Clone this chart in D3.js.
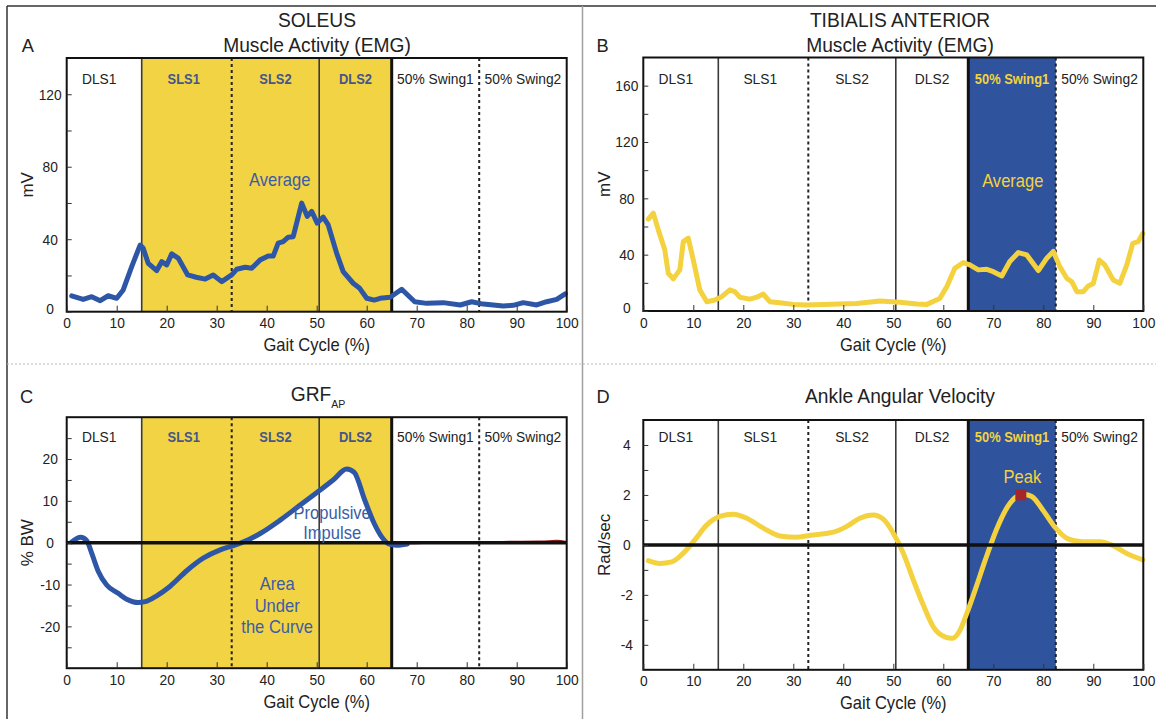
<!DOCTYPE html>
<html><head><meta charset="utf-8">
<script src="https://cdn.jsdelivr.net/npm/d3@7"></script>
<style>
html,body{margin:0;padding:0;background:#fff;}
svg{display:block;font-family:"Liberation Sans",Arial,sans-serif;}
</style></head><body>
<svg id="chart" width="1156" height="719"></svg>
<script>
// ================= DATA =================
const phaseBounds = [0, 15, 33, 50.5, 65, 82.5, 100];
const phaseNames  = ["DLS1", "SLS1", "SLS2", "DLS2", "50% Swing1", "50% Swing2"];
const xTicks = [0, 10, 20, 30, 40, 50, 60, 70, 80, 90, 100];

// Panel A – Soleus EMG (mV)
const soleusGait = [1, 3.3, 5, 6.7, 8.3, 10, 11.3, 13, 14.7, 15.3, 16.3, 18, 19, 20, 21, 22.3, 24.2, 25.9, 27.7, 29.3, 31, 33, 34, 35.7, 37, 38.7, 40.3, 41.3, 42.3, 43.3, 44.3, 45.3, 47, 48.1, 49, 50.1, 51.3, 52.3, 54, 55.3, 57.3, 58.6, 60, 61.5, 62.7, 64.7, 67, 69.6, 72, 75.3, 78.7, 81, 83.3, 87.3, 89.3, 91.3, 94, 96, 98, 99.7];
const soleusEmg  = [8.7, 6.8, 8.3, 6.1, 8.8, 7.4, 12, 24.9, 36.8, 35, 26.7, 22.7, 27.6, 25.8, 31.9, 29.6, 20.3, 19, 18, 20.3, 16.6, 20.3, 23.4, 24.5, 24, 28.6, 30.7, 30.7, 37.8, 38.7, 41.1, 41.4, 59.9, 52.6, 55.4, 48.9, 52.2, 47.9, 32.2, 22.1, 15.7, 12.9, 7.4, 6.4, 7.4, 8, 12.4, 5.5, 4.6, 5, 3.7, 5.5, 4.2, 3.1, 3.5, 5, 3.7, 5.5, 6.8, 9.8];
const soleusTicks = [0, 20, 40, 60, 80, 100, 120];
const soleusLabels = [0, 40, 80, 120];

// Panel B – Tibialis anterior EMG (mV)
const tibGait = [1, 2, 3, 4.3, 5, 6, 7.3, 8, 9, 10, 11.3, 12.7, 14.3, 15.7, 17.3, 18.3, 19.3, 21.3, 22.7, 24, 25.3, 27.3, 30, 32.7, 36, 39.3, 42.7, 47.3, 51.3, 54.7, 56.7, 59.3, 60.7, 62.3, 64, 65.3, 67, 68.7, 70, 71.7, 73.3, 75, 76.7, 79, 80.7, 82, 83.3, 84.7, 85.7, 86.7, 88, 89, 90, 91.2, 92.3, 94, 95.3, 96.7, 97.9, 99, 99.9];
const tibEmg  = [65.2, 69.5, 57.6, 43.4, 26.8, 22.8, 29.2, 49.3, 51.7, 36.2, 15, 6.6, 7.8, 10.2, 15, 13.8, 9.8, 8.4, 9.8, 12, 6.6, 5.9, 4.7, 4.3, 4.7, 5, 5.4, 7.1, 6.2, 5, 4.7, 8.9, 17.3, 30.3, 34.4, 32.7, 29.2, 29.6, 27.9, 24.9, 35.1, 41.5, 39.8, 28.7, 37.5, 42.3, 31.5, 23.2, 20.8, 13.7, 13.7, 17.8, 19.6, 36.2, 32.7, 22, 19.6, 32.7, 48, 49.3, 55];
const tibTicks = [0, 20, 40, 60, 80, 100, 120, 140, 160];
const tibLabels = [0, 40, 80, 120, 160];

// Panel C – GRF anterior-posterior (% BW)
const grfGait = [1, 2.8, 4, 5, 6.3, 8, 10.3, 12, 14.3, 15.7, 18, 20.7, 24, 27.3, 30.7, 33.3, 35, 38.7, 42.7, 46.7, 50.7, 53.3, 56, 57.5, 59.6, 61.5, 63, 64.4, 65.9, 68.1];
const grfAP   = [0.2, 1.3, 0.5, -2.5, -6.8, -10.1, -12.1, -13.5, -14.3, -14.1, -12.7, -10.4, -6.7, -3.7, -1.7, -0.7, 0, 2.2, 5.4, 9, 12.6, 15, 17.6, 16.8, 10.2, 4.6, 1.4, -0.3, -0.6, -0.3];
const swingGrfGait = [65, 70, 75, 80, 85, 90, 95, 98, 100];
const swingGrfAP   = [-0.3, -0.2, 0, 0.1, 0.2, 0.3, 0.35, 0.5, 0.2];
const grfTicks = [-25, -20, -15, -10, -5, 0, 5, 10, 15, 20, 25];
const grfLabels = [-20, -10, 0, 10, 20];

// Panel D – Ankle angular velocity (rad/sec)
const angGait = [1, 3.3, 5.7, 8, 10.3, 12.7, 15.3, 18, 20.7, 24, 27.3, 30.7, 34, 38, 40.7, 43.3, 46, 48, 50, 52, 54, 56, 58, 60.3, 61.8, 63.2, 64.7, 66.6, 68.4, 70.6, 72.9, 74.7, 76.2, 77.7, 79.9, 82.5, 84.7, 87.7, 91.4, 93.6, 96.6, 99.9];
const angVel  = [-0.63, -0.74, -0.68, -0.33, 0.2, 0.8, 1.14, 1.23, 1.07, 0.67, 0.36, 0.31, 0.4, 0.51, 0.74, 1.07, 1.2, 1.03, 0.47, -0.33, -1.4, -2.41, -3.28, -3.68, -3.74, -3.47, -2.74, -1.67, -0.6, 0.6, 1.54, 1.94, 2.02, 1.94, 1.4, 0.67, 0.27, 0.13, 0.13, 0, -0.33, -0.6];
const angTicks = [-4, -3, -2, -1, 0, 1, 2, 3, 4];
const angLabels = [-4, -2, 0, 2, 4];
const peakPoint = [75.5, 2.0];

// ================= STYLE / LAYOUT =================
const YELLOW = "#f2d344", BLUE_BAND = "#2f539c", BLUE_LINE = "#2e56a6", YELLOW_LINE = "#f4d23f";
const BLUE_TXT = "#3c5ca6", PHASE_BLUE_TXT = "#45568b", DARK = "#222";
const svg = d3.select("#chart");
const FONT = "'Liberation Sans', Arial, sans-serif";

function txt(g, x, y, s, o) {
  o = o || {};
  const t = g.append("text")
    .attr("transform", `translate(${x},${y}) scale(${o.sx == null ? 0.92 : o.sx},1)`)
    .attr("text-anchor", o.anchor || "middle")
    .attr("fill", o.fill || DARK)
    .style("font-size", (o.size || 15) + "px")
    .text(s);
  if (o.weight) t.style("font-weight", o.weight);
  return t;
}

// outer frame
svg.append("line").attr("x1", 7).attr("x2", 1156).attr("y1", 6).attr("y2", 6).attr("stroke", "#333").attr("stroke-width", 1.5);
svg.append("line").attr("x1", 7).attr("x2", 7).attr("y1", 6).attr("y2", 719).attr("stroke", "#333").attr("stroke-width", 1.5);
svg.append("line").attr("x1", 7).attr("x2", 1156).attr("y1", 364).attr("y2", 364).attr("stroke", "#bbb").attr("stroke-width", 1).attr("stroke-dasharray", "2,2");
svg.append("line").attr("x1", 582.5).attr("x2", 582.5).attr("y1", 6).attr("y2", 719).attr("stroke", "#a0a0a0").attr("stroke-width", 1.5);

const panels = [
  { letter: "A", left: 66.7, right: 566.7, top: 58, bottom: 311.7, yDomain: [0, 140],
    ticks: soleusTicks, labels: soleusLabels, ylabel: "mV", zeroShift: -3.5,
    titleCx: 317, title: ["SOLEUS", "Muscle Activity (EMG)"], titleY: [27.3, 51.7], letterPos: [21.7, 52.3],
    phaseY: 84, band: [1, 2, 3], bandColor: YELLOW, bandText: PHASE_BLUE_TXT,
    gait: soleusGait, vals: soleusEmg, color: BLUE_LINE, curve: d3.curveLinear },
  { letter: "B", left: 643.3, right: 1143.3, top: 57.5, bottom: 311, yDomain: [0, 180],
    ticks: tibTicks, labels: tibLabels, ylabel: "mV", zeroShift: -3.5,
    titleCx: 900, title: ["TIBIALIS ANTERIOR", "Muscle Activity (EMG)"], titleY: [27.3, 51.7], letterPos: [596.5, 52],
    phaseY: 84, band: [4], bandColor: BLUE_BAND, bandText: YELLOW_LINE,
    gait: tibGait, vals: tibEmg, color: YELLOW_LINE, curve: d3.curveLinear },
  { letter: "C", left: 66.7, right: 566.7, top: 417.2, bottom: 668.2, yDomain: [-30, 30],
    ticks: grfTicks, labels: grfLabels, ylabel: "% BW", zeroShift: 0,
    titleCx: 318, title: null, titleY: [400.7], letterPos: [20, 403],
    phaseY: 441.5, band: [1, 2, 3], bandColor: YELLOW, bandText: PHASE_BLUE_TXT,
    gait: grfGait, vals: grfAP, color: BLUE_LINE, curve: d3.curveMonotoneX, zero: true },
  { letter: "D", left: 643.3, right: 1143.3, top: 420, bottom: 669.8, yDomain: [-5, 5],
    ticks: angTicks, labels: angLabels, ylabel: "Rad/sec", zeroShift: 0,
    titleCx: 900, title: ["Ankle Angular Velocity"], titleY: [403], letterPos: [596.5, 403],
    phaseY: 441.5, band: [4], bandColor: BLUE_BAND, bandText: YELLOW_LINE,
    gait: angGait, vals: angVel, color: YELLOW_LINE, curve: d3.curveMonotoneX, zero: true }
];

panels.forEach(p => {
  const x = d3.scaleLinear().domain([0, 100]).range([p.left, p.right]);
  const y = d3.scaleLinear().domain(p.yDomain).range([p.bottom, p.top]);
  const g = svg.append("g");
  const pts = p.gait.map((v, i) => [v, p.vals[i]]);

  // bands
  p.band.forEach(i => {
    g.append("rect").attr("x", x(phaseBounds[i])).attr("y", p.top)
      .attr("width", x(phaseBounds[i + 1]) - x(phaseBounds[i])).attr("height", p.bottom - p.top)
      .attr("fill", p.bandColor);
  });

  // white propulsive impulse area (panel C)
  if (p.letter === "C") {
    const area = d3.area().x(d => x(d[0])).y0(y(0)).y1(d => y(Math.max(0, d[1]))).curve(d3.curveMonotoneX);
    g.append("path").datum(pts.filter(d => d[0] >= 33)).attr("d", area).attr("fill", "#fff");
  }

  // phase boundary lines
  const styles = [null, "solid", "dash", "solid", "thick", "dash"];
  for (let i = 1; i <= 5; i++) {
    const st = styles[i];
    const l = g.append("line").attr("x1", x(phaseBounds[i])).attr("x2", x(phaseBounds[i]))
      .attr("y1", p.top).attr("y2", p.bottom);
    if (st === "solid") l.attr("stroke", "#3a3a3a").attr("stroke-width", 1.6);
    else if (st === "thick") l.attr("stroke", "#111").attr("stroke-width", 3);
    else l.attr("stroke", "#222").attr("stroke-width", 2).attr("stroke-dasharray", "3,3");
  }

  // phase labels
  phaseNames.forEach((n, i) => {
    const cx = x((phaseBounds[i] + phaseBounds[i + 1]) / 2) - (i === 0 ? 5 : (i === 1 ? 3 : 0));
    const inBand = p.band.includes(i);
    txt(g, cx, p.phaseY, n, { size: 15, fill: inBand ? p.bandText : DARK, weight: inBand ? "bold" : null, sx: inBand ? 0.86 : 0.92 });
  });

  // extra swing line in C
  if (p.letter === "C") {
    g.append("path").datum(swingGrfGait.map((v, i) => [v, swingGrfAP[i]]))
      .attr("d", d3.line().x(d => x(d[0])).y(d => y(d[1])).curve(d3.curveMonotoneX))
      .attr("fill", "none").attr("stroke", "#8b1c1c").attr("stroke-width", 1.5);
  }

  // data line
  g.append("path").datum(pts)
    .attr("d", d3.line().x(d => x(d[0])).y(d => y(d[1])).curve(p.curve))
    .attr("fill", "none").attr("stroke", p.color).attr("stroke-width", 5)
    .attr("stroke-linejoin", "round").attr("stroke-linecap", "round");

  // zero line
  if (p.zero) {
    g.append("line").attr("x1", p.left).attr("x2", p.right).attr("y1", y(0)).attr("y2", y(0))
      .attr("stroke", "#111").attr("stroke-width", 3.5);
  }

  // peak marker (D)
  if (p.letter === "D") {
    g.append("rect").attr("x", x(peakPoint[0]) - 5.5).attr("y", y(peakPoint[1]) - 5.5)
      .attr("width", 11).attr("height", 11).attr("fill", "#a3262b");
    txt(g, x(75.8), y(2.49), "Peak", { size: 18, fill: YELLOW_LINE });
  }
  if (p.letter === "A") txt(g, x(42.6), y(69.4), "Average", { size: 18, fill: BLUE_TXT });
  if (p.letter === "B") txt(g, x(73.9), y(88.2), "Average", { size: 18, fill: YELLOW_LINE });
  if (p.letter === "C") {
    txt(g, x(53.1), y(5.7), "Propulsive", { size: 18, fill: BLUE_TXT });
    txt(g, x(53.1), y(0.9), "Impulse", { size: 18, fill: BLUE_TXT });
    txt(g, x(42.1), y(-11.3), "Area", { size: 18, fill: BLUE_TXT });
    txt(g, x(42.1), y(-16.5), "Under", { size: 18, fill: BLUE_TXT });
    txt(g, x(42.1), y(-21.5), "the Curve", { size: 18, fill: BLUE_TXT });
  }

  // box
  g.append("rect").attr("x", p.left).attr("y", p.top).attr("width", p.right - p.left).attr("height", p.bottom - p.top)
    .attr("fill", "none").attr("stroke", "#111").attr("stroke-width", 2);

  // axes
  const xa = g.append("g").attr("transform", `translate(0,${p.bottom})`)
    .call(d3.axisBottom(x).tickValues(xTicks).tickSize(-6).tickPadding(6).tickFormat(d => String(d)));
  xa.select(".domain").remove();
  xa.attr("font-family", FONT).attr("font-size", 15).attr("color", "#333");
  xa.selectAll("text").attr("transform", "scale(0.92,1)").attr("fill", DARK);

  const ya = g.append("g").attr("transform", `translate(${p.left},0)`)
    .call(d3.axisLeft(y).tickValues(p.ticks).tickSize(-5).tickFormat(d => p.labels.includes(d) ? String(d) : ""));
  ya.select(".domain").remove();
  ya.attr("font-family", FONT).attr("font-size", 15).attr("color", "#333");
  ya.selectAll("text").attr("x", null).attr("text-anchor", "middle").attr("fill", DARK)
    .attr("transform", d => `translate(-16.5,${d === 0 ? p.zeroShift : 0}) scale(0.92,1)`);

  // axis titles
  txt(g, (p.left + p.right) / 2, p.bottom + 39.5, "Gait Cycle (%)", { size: 18 });
  g.append("text").attr("transform", `translate(${p.left - 33.7},${(p.top + p.bottom) / 2}) rotate(-90) scale(1,0.92)`)
    .attr("text-anchor", "middle").attr("fill", DARK).style("font-size", "17px").text(p.ylabel);

  // panel title
  if (p.title) {
    p.title.forEach((t, i) => txt(g, p.titleCx, p.titleY[i], t, { size: 20, sx: 0.96 }));
  } else {
    const t = g.append("text").attr("transform", `translate(${p.titleCx},${p.titleY[0]}) scale(0.96,1)`)
      .attr("text-anchor", "middle").attr("fill", DARK).style("font-size", "20px");
    t.append("tspan").text("GRF");
    t.append("tspan").attr("dy", 7).style("font-size", "11px").text("AP");
  }
  txt(g, p.letterPos[0], p.letterPos[1], p.letter, { size: 19, anchor: "start", sx: 0.96 });
});
</script>
</body></html>
